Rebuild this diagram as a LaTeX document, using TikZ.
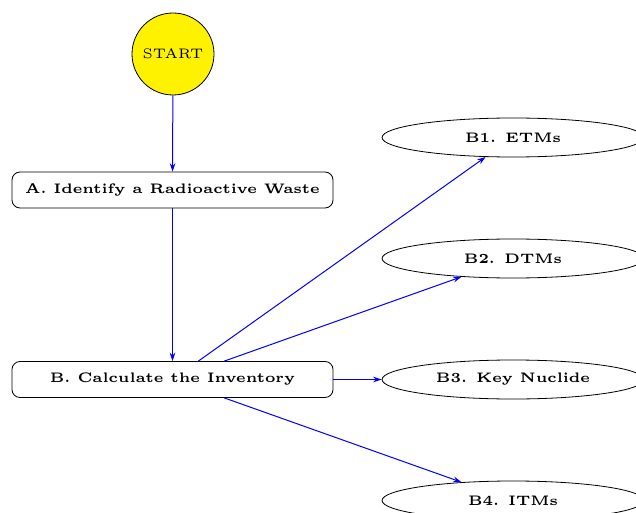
\documentclass[tikz,border=0pt]{standalone}
\usetikzlibrary{shapes.geometric,arrows.meta}
% small design-size Computer Modern cuts, set a little larger
\font\labelbf=cmbx5 at 6.9pt
\font\labelrm=cmr5 at 6.9pt
\begin{document}
\begin{tikzpicture}[x=0.5pt,y=-0.5pt,
  startnode/.style={circle,draw,fill=yellow,minimum size=41pt,inner sep=0pt,font=\labelrm},
  stepbox/.style={draw,rounded corners=4pt,minimum width=160.5pt,minimum height=18pt,inner sep=0pt,font=\labelbf},
  outcome/.style={ellipse,draw,minimum width=131pt,minimum height=19.5pt,inner sep=0pt,font=\labelbf},
  flow/.style={draw=blue,line width=0.5pt,-{Stealth[length=4.2pt,width=2.8pt]}}]
\useasboundingbox (0,0) rectangle (636,513);
\node[startnode] (start) at (173,54) {START};
\node[stepbox] (a) at (172.5,190) {A. Identify a Radioactive Waste};
\node[stepbox] (b) at (172.5,379.5) {B. Calculate the Inventory};
\node[outcome] (b1) at (513,137.5) {B1. ETMs};
\node[outcome] (b2) at (513,258.5) {B2. DTMs};
\node[outcome] (b3) at (513,379.5) {B3. Key Nuclide};
\node[outcome] (b4) at (513,500.5) {B4. ITMs};
\draw[flow] (start) -- (a);
\draw[flow] (a) -- (b);
\draw[flow] (b) -- (b1);
\draw[flow] (b) -- (b2);
\draw[flow] (b) -- (b3);
\draw[flow] (b) -- (b4);
\end{tikzpicture}
\end{document}
